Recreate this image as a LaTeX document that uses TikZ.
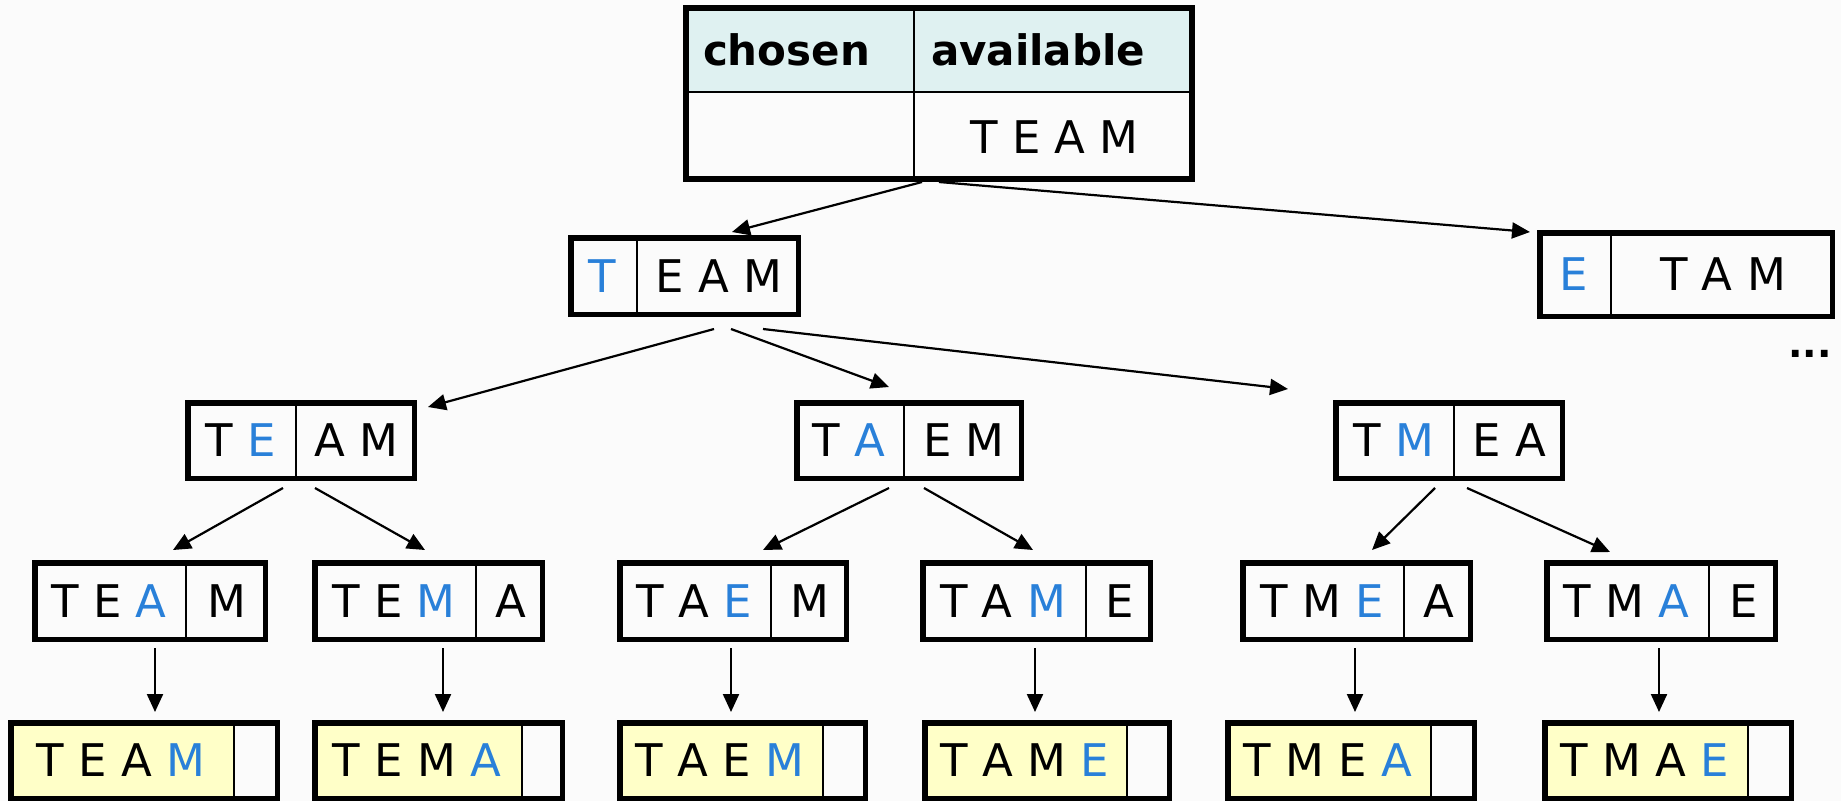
\documentclass[tikz,border=0pt]{standalone}
\usepackage{fontspec}
\setmainfont{DejaVu Sans}
\usetikzlibrary{arrows.meta}

\definecolor{pickblue}{RGB}{41,128,217}
\definecolor{headfill}{RGB}{223,241,241}
\definecolor{leaffill}{RGB}{255,255,200}
\definecolor{paper}{RGB}{251,251,251}

% the letter placed last is shown in blue
\newcommand{\pick}[1]{\textcolor{pickblue}{#1}}

\tikzset{every picture/.style={line width=2pt}}
\tikzset{
  cell/.style={inner sep=0pt, outer sep=0pt, font=\fontsize{45}{54}\selectfont},
  head/.style={inner sep=0pt, outer sep=0pt, font=\bfseries\fontsize{42}{50}\selectfont},
  frame/.style={draw, line width=5.5pt, inner sep=0pt, outer sep=2.75pt},
  divider/.style={line width=2pt},
  arr/.style={line width=2.2pt, -{Triangle[length=18pt,width=16pt]}},
}

% box: #1 name, #2 left, #3 top, #4 right, #5 bottom, #6 split, #7 chosen, #8 available, #9 fill
\newcommand{\permbox}[9]{%
  \node[cell, fill=#9, minimum width=#6-#2, minimum height=#5-#3] (#1-c) at ({(#2+#6)/2},{(#3+#5)/2}) {#7};
  \node[cell, minimum width=#4-#6, minimum height=#5-#3] (#1-a) at ({(#6+#4)/2},{(#3+#5)/2}) {#8};
  \draw[divider] (#1-c.north east) -- (#1-c.south east);
  \node[frame, minimum width=#4-#2-5.5, minimum height=#5-#3-5.5] (#1) at ({(#2+#4)/2},{(#3+#5)/2}) {};
}

\begin{document}
\begin{tikzpicture}[x=1pt,y=1pt,yscale=-1,xscale=1]
\useasboundingbox (0,0) rectangle (1841,801);
\fill[paper] (0,0) rectangle (1841,801);

%Table: chosen / available
\node[cell, fill=headfill, minimum width=231, minimum height=87] (root-ch) at (798.5,48.5) {};
\node[cell, fill=headfill, minimum width=281, minimum height=87] (root-ah) at (1054.5,48.5) {};
\node[head, anchor=base west] (chosen) at (703,65) {chosen};
\node[head, anchor=base west] (avail) at (931,65) {available};
\node[cell] (root-a) at (1054.5,137) {T E A M};
\draw[divider] (root-ch.south west) -- (root-ah.south east);
\draw[divider] (root-ch.north east) -- (914,182);
\node[frame, line width=6pt, outer sep=3pt, minimum width=506, minimum height=171] (root) at (939,93.5) {};

%First letter
\permbox{t}{568}{235}{801}{317}{637}{\pick{T}}{E A M}{none}
\permbox{e}{1537}{230}{1835}{319}{1611}{\pick{E}}{T A M}{none}
\node[inner sep=0pt, font=\bfseries\fontsize{38}{40}\selectfont, anchor=base] (more) at (1810,357) {...};

%Second letter
\permbox{te}{185}{400}{417}{481}{296}{T \pick{E}}{A M}{none}
\permbox{ta}{794}{400}{1024}{481}{904}{T \pick{A}}{E M}{none}
\permbox{tm}{1333}{400}{1565}{481}{1454}{T \pick{M}}{E A}{none}

%Third letter
\permbox{tea}{32}{560}{268}{642}{186}{T E \pick{A}}{M}{none}
\permbox{tem}{312}{560}{545}{642}{476}{T E \pick{M}}{A}{none}
\permbox{tae}{617}{560}{849}{642}{771}{T A \pick{E}}{M}{none}
\permbox{tam}{920}{560}{1153}{642}{1086}{T A \pick{M}}{E}{none}
\permbox{tme}{1240}{560}{1473}{642}{1404}{T M \pick{E}}{A}{none}
\permbox{tma}{1544}{560}{1778}{642}{1709}{T M \pick{A}}{E}{none}

%Finished words
\permbox{team}{8}{720}{280}{801}{234}{T E A \pick{M}}{}{leaffill}
\permbox{tema}{312}{720}{565}{801}{522}{T E M \pick{A}}{}{leaffill}
\permbox{taem}{617}{720}{868}{801}{823}{T A E \pick{M}}{}{leaffill}
\permbox{tame}{922}{720}{1172}{801}{1127}{T A M \pick{E}}{}{leaffill}
\permbox{tmea}{1225}{720}{1477}{801}{1431}{T M E \pick{A}}{}{leaffill}
\permbox{tmae}{1542}{720}{1794}{801}{1748}{T M A \pick{E}}{}{leaffill}

%Arrows
\draw[arr] ([xshift=-17pt]root.south) -- ([shift={(47.5pt,-3pt)}]t.north);
\draw[arr] (root.south) -- ([shift={(-7pt,2pt)}]e.north west);

\draw[arr] ([shift={(29.5pt,12pt)}]t.south) -- ([shift={(11pt,7pt)}]te.north east);
\draw[arr] ([shift={(46.5pt,12pt)}]t.south) -- ([shift={(-20pt,-13pt)}]ta.north);
\draw[arr] ([shift={(78.5pt,12pt)}]t.south) -- ([shift={(-45pt,-11pt)}]tm.north west);

\draw[arr] ([shift={(-18pt,7pt)}]te.south) -- ([shift={(23pt,-10pt)}]tea.north);
\draw[arr] ([shift={(14pt,7pt)}]te.south) -- ([shift={(-3.5pt,-10pt)}]tem.north);
\draw[arr] ([shift={(-20pt,7pt)}]ta.south) -- ([shift={(30pt,-10pt)}]tae.north);
\draw[arr] ([shift={(15pt,7pt)}]ta.south) -- ([shift={(-3.5pt,-10pt)}]tam.north);
\draw[arr] ([shift={(-14pt,7pt)}]tm.south) -- ([shift={(15.5pt,-10pt)}]tme.north);
\draw[arr] ([shift={(18pt,7pt)}]tm.south) -- ([shift={(-51pt,-8pt)}]tma.north);

\draw[arr] ([shift={(5pt,6pt)}]tea.south) -- ([shift={(5pt,-8pt)}]tea.south |- team.north);
\draw[arr] ([shift={(14.5pt,6pt)}]tem.south) -- ([shift={(14.5pt,-8pt)}]tem.south |- tema.north);
\draw[arr] ([shift={(-2pt,6pt)}]tae.south) -- ([shift={(-2pt,-8pt)}]tae.south |- taem.north);
\draw[arr] ([shift={(-1.5pt,6pt)}]tam.south) -- ([shift={(-1.5pt,-8pt)}]tam.south |- tame.north);
\draw[arr] ([shift={(-1.5pt,6pt)}]tme.south) -- ([shift={(-1.5pt,-8pt)}]tme.south |- tmea.north);
\draw[arr] ([shift={(-2pt,6pt)}]tma.south) -- ([shift={(-2pt,-8pt)}]tma.south |- tmae.north);

\end{tikzpicture}
\end{document}
